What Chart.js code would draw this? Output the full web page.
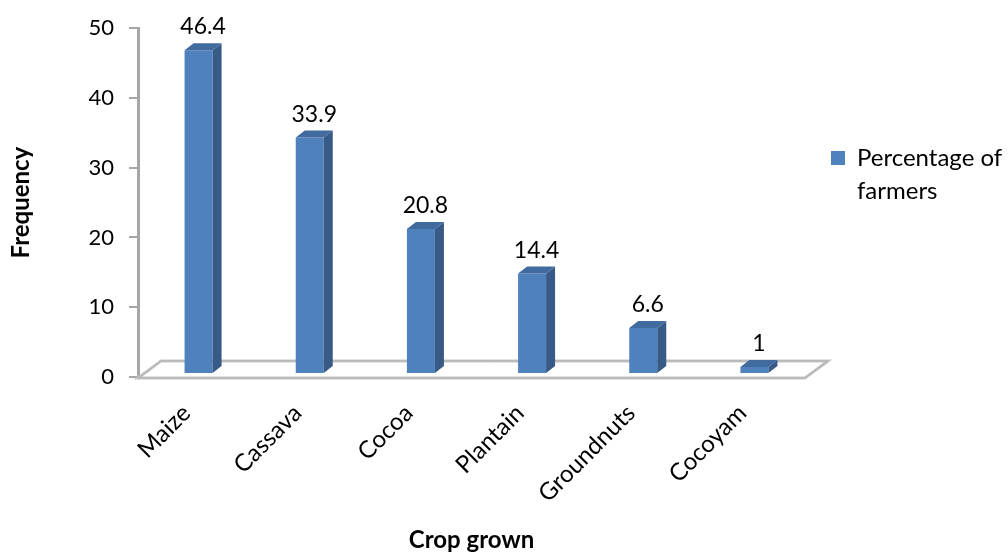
<!DOCTYPE html>
<html>
<head>
<meta charset="utf-8">
<script src="https://cdn.jsdelivr.net/npm/chart.js@4/dist/chart.umd.min.js"></script>
<style>
  html, body { margin: 0; padding: 0; background: #fff; }
  #wrap { width: 1008px; height: 555px; position: relative; }
</style>
</head>
<body>
<div id="wrap"><canvas id="crops"></canvas></div>
<script>
// crops grown and share of farmers
const crops   = ['Maize', 'Cassava', 'Cocoa', 'Plantain', 'Groundnuts', 'Cocoyam'];
const percent = [46.4, 33.9, 20.8, 14.4, 6.6, 1];
const yTicks  = [0, 10, 20, 30, 40, 50];

const FONT = 'Lato, "Open Sans", sans-serif';
const blue = { front: '#4f81bd', side: '#375a87', top: '#416b9f' };

// fake 3d: floor depth and bar depth
const floor = { dx: 23, dy: 17 };
const bar3d = { dx: 9, dy: 7, shiftX: 5, shiftY: -3 };

const pseudo3d = {
  id: 'pseudo3d',
  beforeDatasetsDraw(chart) {
    const { ctx, chartArea: a } = chart;
    ctx.save();
    ctx.beginPath();
    ctx.moveTo(a.left, a.bottom + 1);
    ctx.lineTo(a.right, a.bottom + 1);
    ctx.lineTo(a.right + floor.dx, a.bottom + 1 - floor.dy);
    ctx.lineTo(a.left + floor.dx, a.bottom + 1 - floor.dy);
    ctx.closePath();
    ctx.fillStyle = '#ffffff';
    ctx.fill();
    ctx.lineWidth = 3;
    ctx.strokeStyle = '#c8c8c8';
    ctx.stroke();
    ctx.lineWidth = 1;
    ctx.strokeStyle = '#adadad';
    ctx.stroke();
    ctx.restore();
    ctx.save();
    ctx.translate(bar3d.shiftX, bar3d.shiftY);
  },
  afterDatasetsDraw(chart) {
    const { ctx } = chart;
    const meta = chart.getDatasetMeta(0);
    meta.data.forEach((el, i) => {
      const { x, y, base, width } = el.getProps(['x', 'y', 'base', 'width'], true);
      const l = x - width / 2, r = x + width / 2;
      // right side face
      ctx.beginPath();
      ctx.moveTo(r, y);
      ctx.lineTo(r + bar3d.dx, y - bar3d.dy);
      ctx.lineTo(r + bar3d.dx, base - bar3d.dy);
      ctx.lineTo(r, base);
      ctx.closePath();
      ctx.fillStyle = blue.side;
      ctx.fill();
      // top face
      ctx.beginPath();
      ctx.moveTo(l, y);
      ctx.lineTo(l + bar3d.dx, y - bar3d.dy);
      ctx.lineTo(r + bar3d.dx, y - bar3d.dy);
      ctx.lineTo(r, y);
      ctx.closePath();
      ctx.fillStyle = blue.top;
      ctx.fill();
      // value label
      ctx.fillStyle = '#000';
      ctx.font = '23px ' + FONT;
      ctx.textAlign = 'center';
      ctx.textBaseline = 'alphabetic';
      ctx.fillText(String(percent[i]), x + bar3d.dx / 2, y - 16);
    });
    ctx.restore();

    // legend box on the right
    const label = chart.data.datasets[0].label;
    ctx.save();
    ctx.fillStyle = blue.front;
    ctx.fillRect(831, 151, 14, 14);
    ctx.fillStyle = '#000';
    ctx.font = '24px ' + FONT;
    ctx.textAlign = 'left';
    ctx.textBaseline = 'middle';
    const words = label.split(' ');
    ctx.fillText(words.slice(0, 2).join(' '), 857, 158);
    ctx.fillText(words.slice(2).join(' '), 857, 191);
    ctx.restore();
  }
};

new Chart(document.getElementById('crops').getContext('2d'), {
  type: 'bar',
  data: {
    labels: crops,
    datasets: [{
      label: 'Percentage of farmers',
      data: percent,
      backgroundColor: blue.front,
      borderWidth: 0,
      categoryPercentage: 1,
      barPercentage: 0.252
    }]
  },
  options: {
    responsive: true, maintainAspectRatio: false, animation: false,
    layout: { padding: { left: 0, right: 203, top: 27, bottom: 0 } },
    plugins: { legend: { display: false }, tooltip: { enabled: false } },
    scales: {
      x: {
        grid: { display: false },
        border: { display: false },
        afterFit: s => { s.height = 178; },
        ticks: { color: '#000', font: { family: FONT, size: 24 }, minRotation: 45, maxRotation: 45, padding: 14, labelOffset: -7 },
        title: { display: true, text: 'Crop grown', color: '#000', font: { family: FONT, size: 24, weight: 'bold' }, padding: { top: 2, bottom: 0 } }
      },
      y: {
        min: 0, max: 50,
        afterFit: s => { s.width = 138; },
        afterBuildTicks: s => { s.ticks = yTicks.map(v => ({ value: v })); },
        grid: { display: true, drawOnChartArea: false, drawTicks: true, tickLength: 9, color: '#a6a6a6', lineWidth: 2 },
        border: { display: true, color: '#a6a6a6', width: 3 },
        ticks: { color: '#000', font: { family: FONT, size: 22 }, padding: 15 },
        title: { display: true, text: 'Frequency', color: '#000', font: { family: FONT, size: 24, weight: 'bold' }, padding: { top: 7, bottom: 0 } }
      }
    }
  },
  plugins: [pseudo3d]
});
</script>
</body>
</html>
